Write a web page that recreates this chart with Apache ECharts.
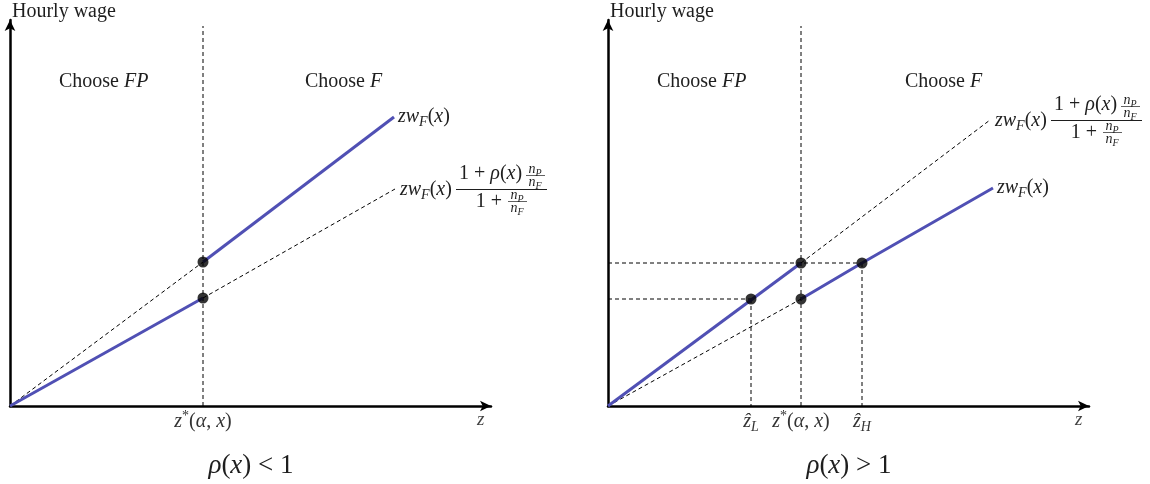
<!DOCTYPE html>
<html>
<head>
<meta charset="utf-8">
<script src="https://cdn.jsdelivr.net/npm/echarts@6/dist/echarts.min.js"></script>
<style>
  html, body { margin: 0; padding: 0; background: #fff; }
  #chart { width: 1150px; height: 484px; }
</style>
</head>
<body>
<div id="chart"></div>
<script>
// ---- Panel 1: rho(x) < 1 ----
const leftTicks = [193];
const leftTickLabels = ['{i|z}{sup|*}{r|(}{i|α}{r|, }{i|x}{r|)}'];
const leftSolidLow = [[0, 0], [193, 108]];
const leftSolidHigh = [[193, 144], [384, 289]];
const leftDashHigh = [[0, 0], [193, 144]];
const leftDashLow = [[193, 108], [385, 217]];
const leftDots = [[193, 144], [193, 108]];
const leftDivider = [[193, 0], [193, 380]];

// ---- Panel 2: rho(x) > 1 ----
const rightTicks = [143, 193, 254];
const rightTickLabels = ['{i|ẑ}{s|L}', '{i|z}{sup|*}{r|(}{i|α}{r|, }{i|x}{r|)}', '{i|ẑ}{s|H}'];
const rightSolidHigh = [[0, 0], [193, 143]];
const rightSolidLow = [[193, 107], [254, 143], [385, 218]];
const rightDashLow = [[0, 0], [193, 107]];
const rightDashHigh = [[193, 143], [382, 286]];
const rightDots = [[143, 107], [193, 143], [193, 107], [254, 143]];
const rightDivider = [[193, 0], [193, 380]];
const rightGuides = [
  [[0, 143], [254, 143]], [[254, 143], [254, 0]],
  [[0, 107], [143, 107]], [[143, 107], [143, 0]]
];

const SERIF = "'Liberation Serif', 'DejaVu Serif', serif";
const INK = '#1e1e1e';
const BLUE = '#5050b4';

// rich styles for math-like text; colorKey is 'color' for components, 'fill' for graphics
function mathRich(size, colorKey, col) {
  const c = col || INK;
  const sub = Math.round(size * 0.68);
  return {
    r:   { fontFamily: SERIF, fontSize: size, lineHeight: Math.round(size * 1.25), [colorKey]: c },
    i:   { fontFamily: SERIF, fontStyle: 'italic', fontSize: size, lineHeight: Math.round(size * 1.25), [colorKey]: c },
    s:   { fontFamily: SERIF, fontStyle: 'italic', fontSize: sub, lineHeight: sub, verticalAlign: 'bottom', [colorKey]: c },
    sup: { fontFamily: SERIF, fontSize: sub, lineHeight: sub, verticalAlign: 'top', [colorKey]: c }
  };
}

function axisPair(gi, ticks, labels) {
  const x = {
    gridIndex: gi, type: 'value', min: 0, max: 481,
    axisLine: { show: true, onZero: false, symbol: ['none', 'arrow'], symbolSize: [8, 11],
      lineStyle: { color: '#000', width: 2.5 } },
    axisTick: { show: false }, splitLine: { show: false },
    axisLabel: {
      customValues: ticks, margin: 3,
      formatter: v => labels[ticks.indexOf(v)] || '',
      rich: mathRich(20, 'color', '#333')
    },
    name: 'z', nameLocation: 'end', nameGap: -14,
    nameTextStyle: { fontFamily: SERIF, fontStyle: 'italic', fontSize: 19, color: '#444',
      align: 'left', verticalAlign: 'top', padding: [4, 0, 0, 0] }
  };
  const y = {
    gridIndex: gi, type: 'value', min: 0, max: 386,
    axisLine: { show: true, onZero: false, symbol: ['none', 'arrow'], symbolSize: [8, 11],
      lineStyle: { color: '#000', width: 2.5 } },
    axisTick: { show: false }, axisLabel: { show: false }, splitLine: { show: false },
    name: 'Hourly wage', nameLocation: 'end', nameGap: -2,
    nameTextStyle: { fontFamily: SERIF, fontSize: 20, color: INK, align: 'left',
      verticalAlign: 'bottom', padding: [0, 0, 0, 2] }
  };
  return [x, y];
}

function seg(gi, data, kind, extra) {
  const solid = kind === 'solid';
  return Object.assign({
    type: 'line', xAxisIndex: gi, yAxisIndex: gi, data, symbol: 'none', silent: true,
    z: solid ? 4 : 3,
    lineStyle: solid ? { color: BLUE, width: 3 } : { color: '#000', width: 1, type: [4, 3] }
  }, extra || {});
}

function dots(gi, data) {
  return { type: 'scatter', xAxisIndex: gi, yAxisIndex: gi, data, symbolSize: 11,
    itemStyle: { color: '#000' }, z: 6, silent: true };
}

const endLabel = {
  show: true, distance: 4,
  formatter: '{i|zw}{s|F}{r|(}{i|x}{r|)}',
  rich: mathRich(20, 'color')
};

const [x0, y0] = axisPair(0, leftTicks, leftTickLabels);
const [x1, y1] = axisPair(1, rightTicks, rightTickLabels);

const series = [
  seg(0, leftDivider, 'dash'),
  seg(0, leftDashHigh, 'dash'),
  seg(0, leftDashLow, 'dash'),
  seg(0, leftSolidLow, 'solid'),
  seg(0, leftSolidHigh, 'solid', { endLabel }),
  dots(0, leftDots),
  seg(1, rightDivider, 'dash'),
  seg(1, rightDashLow, 'dash'),
  seg(1, rightDashHigh, 'dash'),
  ...rightGuides.map(g => seg(1, g, 'dash')),
  seg(1, rightSolidHigh, 'solid'),
  seg(1, rightSolidLow, 'solid', { endLabel }),
  dots(1, rightDots)
];

const chart = echarts.init(document.getElementById('chart'), null, { renderer: 'canvas' });
chart.setOption({
  animation: false,
  backgroundColor: '#fff',
  grid: [
    { left: 10, top: 20, width: 481, height: 386 },
    { left: 608, top: 20, width: 481, height: 386 }
  ],
  xAxis: [x0, x1],
  yAxis: [y0, y1],
  series
});

// ---- text drawn as graphics ----
function txt(x, y, text, size, align) {
  return { type: 'text', x, y, silent: true,
    style: { text, rich: mathRich(size, 'fill'), align: align || 'left', verticalAlign: 'middle' } };
}
function rule(x1, y1, x2, y2, w) {
  return { type: 'line', silent: true, shape: { x1, y1, x2, y2 }, style: { stroke: INK, lineWidth: w || 1 } };
}
// the weighted-wage label: zw_F(x) (1 + rho(x) nP/nF) / (1 + nP/nF)
function fractionLabel(px) {
  return { type: 'group', x: px[0] + 4, y: px[1], silent: true, children: [
    txt(1, 1, '{i|zw}{s|F}{r|(}{i|x}{r|)}', 20),
    rule(57, 0.5, 148, 0.5, 1),
    txt(60, -15, '{r|1 + }{i|ρ}{r|(}{i|x}{r|)}', 20),
    txt(136, -20, '{i|n}{s|P}', 14, 'center'),
    rule(127, -13.5, 146, -13.5, 0.7),
    txt(136, -7, '{i|n}{s|F}', 14, 'center'),
    txt(90, 13, '{r|1 +}', 20, 'center'),
    txt(118, 6, '{i|n}{s|P}', 14, 'center'),
    rule(109, 12.5, 128, 12.5, 0.7),
    txt(118, 19, '{i|n}{s|F}', 14, 'center')
  ] };
}

const leftAnchor = chart.convertToPixel({ gridIndex: 0 }, leftDashLow[leftDashLow.length - 1]);
const rightAnchor = chart.convertToPixel({ gridIndex: 1 }, rightDashHigh[rightDashHigh.length - 1]);

chart.setOption({
  graphic: [
    fractionLabel(leftAnchor),
    fractionLabel(rightAnchor),
    txt(59, 82, '{r|Choose }{i|FP}', 20),
    txt(305, 82, '{r|Choose }{i|F}', 20),
    txt(657, 82, '{r|Choose }{i|FP}', 20),
    txt(905, 82, '{r|Choose }{i|F}', 20),
    txt(251, 466, '{i|ρ}{r|(}{i|x}{r|) < 1}', 27, 'center'),
    txt(849, 466, '{i|ρ}{r|(}{i|x}{r|) > 1}', 27, 'center')
  ]
});
</script>
</body>
</html>
